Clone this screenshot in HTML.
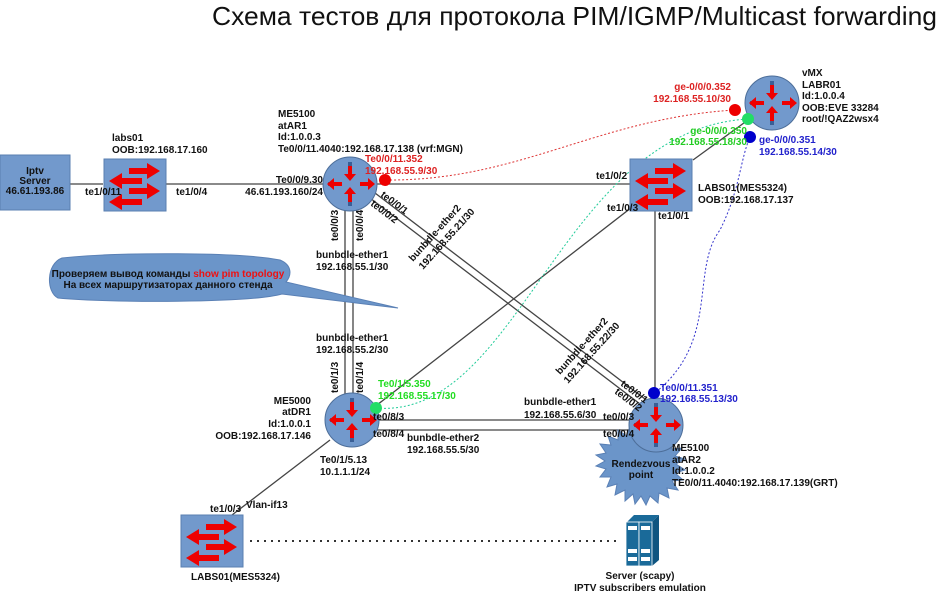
<!DOCTYPE html>
<html><head><meta charset="utf-8"><style>
html,body{margin:0;padding:0;background:#fff;}
svg{display:block;font-family:"Liberation Sans","Noto Sans CJK SC",sans-serif;}
.b{font-weight:bold;font-size:10px;fill:#111;}
</style></head><body>
<svg width="941" height="601" viewBox="0 0 941 601" xmlns="http://www.w3.org/2000/svg">
<defs>
<g id="rt">
 <circle r="27" fill="#7299cc" stroke="#4d6e99" stroke-width="1"/>
 <rect x="-2" y="-22" width="4" height="8" fill="#3a5f96"/>
 <rect x="-2" y="14" width="4" height="8" fill="#3a5f96"/>
 <rect x="-22" y="-2" width="8" height="4" fill="#3a5f96"/>
 <rect x="14" y="-2" width="8" height="4" fill="#3a5f96"/>
 <path d="M-2,-18 h4 v8 h4 l-6,7 l-6,-7 h4z" fill="#e00"/>
 <path d="M-2,18 h4 v-8 h4 l-6,-7 l-6,7 h4z" fill="#e00"/>
 <path d="M-8,-2 v4 h-8 v4 l-7,-6 l7,-6 v4z" fill="#e00"/>
 <path d="M10,-2 v4 h8 v4 l7,-6 l-7,-6 v4z" fill="#e00"/>
</g>
<g id="sw">
 <rect x="0" y="0" width="62" height="52" fill="#7299cc" stroke="#5a7fb0"/>
 <path d="M25,9 h18 v-5 l13,8 l-13,8 v-5 h-18z" fill="#e00"/>
 <path d="M38,19 h-20 v-5 l-13,8 l13,8 v-5 h20z" fill="#e00"/>
 <path d="M25,29 h18 v-5 l13,8 l-13,8 v-5 h-18z" fill="#e00"/>
 <path d="M38,40 h-20 v-5 l-13,8 l13,8 v-5 h20z" fill="#e00"/>
</g>
</defs>
<text x="212" y="25" font-size="26" fill="#111" textLength="725" lengthAdjust="spacingAndGlyphs">Схема тестов для протокола PIM/IGMP/Multicast forwarding</text>

<g stroke="#444" stroke-width="1.3" fill="none">
 <line x1="70" y1="184" x2="103" y2="184"/>
 <line x1="166" y1="184" x2="630" y2="184"/>
 <line x1="693" y1="160" x2="748" y2="120"/>
 <line x1="345" y1="208" x2="345" y2="395"/>
 <line x1="353" y1="208" x2="353" y2="395"/>
 <line x1="370" y1="198" x2="640" y2="404"/>
 <line x1="375" y1="193" x2="645" y2="399"/>
 <line x1="376" y1="420" x2="630" y2="420"/>
 <line x1="376" y1="430" x2="630" y2="430"/>
 <line x1="636" y1="204" x2="368" y2="412"/>
 <line x1="655" y1="210" x2="655" y2="396"/>
 <line x1="330" y1="440" x2="232" y2="515"/>
</g>
<line x1="250" y1="541" x2="618" y2="541" stroke="#333" stroke-width="2" stroke-dasharray="2,5"/>
<path d="M390,180 C520,180 600,118 735,110" stroke="#d33" stroke-width="1" stroke-dasharray="2,2" fill="none"/>
<path d="M376,408 C520,420 560,130 748,119" stroke="#2c9" stroke-width="1" stroke-dasharray="2,2" fill="none"/>
<path d="M656,392 C720,340 690,270 720,230 C740,190 740,160 750,137" stroke="#33c" stroke-width="1" stroke-dasharray="2,2" fill="none"/>

<path d="M62,258 C120,252 240,252 280,260 C292,265 292,275 286,282 L398,308 L282,294 C250,303 110,303 58,298 C46,292 46,264 62,258z" fill="#6b95c9" stroke="#5a80b5"/>
<text x="168" y="277" text-anchor="middle" class="b" font-size="8">Проверяем вывод команды <tspan fill="#e11" font-size="10">show pim topology</tspan></text>
<text x="168" y="288" text-anchor="middle" class="b" font-size="8">На всех маршрутизаторах данного стенда</text>

<polygon fill="#6b95c9" stroke="#5a80b5" points="
643,427 648,437 655,428 657,439 666,432 665,443 676,439 671,449 682,448 675,456 685,459 676,464 685,470 675,473 683,480 672,481 678,490 667,488 669,498 659,493 658,503 650,496 646,505 641,496 635,504 633,494 625,501 625,490 615,495 617,484 607,487 611,477 600,477 606,469 596,466 605,461 596,455 606,453 600,444 611,445 608,436 618,440 618,430 627,436 630,426 636,434"/>
<text x="641" y="467" text-anchor="middle" class="b" font-size="9">Rendezvous</text>
<text x="641" y="478" text-anchor="middle" class="b" font-size="9">point</text>

<rect x="0" y="155" width="70" height="55" fill="#7299cc" stroke="#5a7fb0"/>
<text x="35" y="174" text-anchor="middle" class="b" font-size="9">Iptv</text>
<text x="35" y="184" text-anchor="middle" class="b" font-size="9">Server</text>
<text x="35" y="194" text-anchor="middle" class="b" font-size="9">46.61.193.86</text>
<use href="#sw" x="104" y="159"/>
<use href="#sw" x="630" y="159"/>
<use href="#sw" x="181" y="515"/>
<use href="#rt" x="350" y="184"/>
<use href="#rt" x="772" y="103"/>
<use href="#rt" x="352" y="420"/>
<use href="#rt" x="656" y="425"/>

<g>
 <polygon points="627,522 634,515 659,515 652,522" fill="#1a6a99"/>
 <polygon points="652,522 659,515 659,560 652,566" fill="#0f5580"/>
 <rect x="626" y="522" width="13" height="44" fill="#1a6a99" stroke="#fff" stroke-width="0.8"/>
 <rect x="639" y="522" width="13" height="44" fill="#1a6a99" stroke="#fff" stroke-width="0.8"/>
 <g fill="#fff"><rect x="628" y="526" width="9" height="4"/><rect x="641" y="526" width="9" height="4"/><rect x="628" y="549" width="9" height="4"/><rect x="641" y="549" width="9" height="4"/><rect x="628" y="557" width="9" height="4"/><rect x="641" y="557" width="9" height="4"/></g>
</g>

<circle cx="385" cy="180" r="6" fill="#e00"/>
<circle cx="735" cy="110" r="6" fill="#e00"/>
<circle cx="748" cy="119" r="6" fill="#2d6"/>
<circle cx="376" cy="408" r="6" fill="#2d6"/>
<circle cx="750" cy="137" r="6" fill="#00c"/>
<circle cx="654" cy="393" r="6" fill="#00c"/>

<g class="b">
<text x="112" y="141">labs01</text>
<text x="112" y="153">OOB:192.168.17.160</text>
<text x="85" y="195">te1/0/11</text>
<text x="176" y="195">te1/0/4</text>
<text x="278" y="117">ME5100</text>
<text x="278" y="129">atAR1</text>
<text x="278" y="140">Id:1.0.0.3</text>
<text x="278" y="152">Te0/0/11.4040:192.168.17.138 (vrf:MGN)</text>
<text x="323" y="183" text-anchor="end">Te0/0/9.30</text>
<text x="323" y="195" text-anchor="end">46.61.193.160/24</text>
<text x="365" y="162" fill="#d22">Te0/0/11.352</text>
<text x="365" y="174" fill="#d22">192.168.55.9/30</text>
<text transform="translate(338,241) rotate(-90)">te0/0/3</text>
<text transform="translate(363,241) rotate(-90)">te0/0/4</text>
<text x="316" y="258">bunbdle-ether1</text>
<text x="316" y="270">192.168.55.1/30</text>
<text x="316" y="341">bunbdle-ether1</text>
<text x="316" y="353">192.168.55.2/30</text>
<text transform="translate(338,393) rotate(-90)">te0/1/3</text>
<text transform="translate(363,393) rotate(-90)">te0/1/4</text>
<text transform="translate(380,196) rotate(37)">te0/0/1</text>
<text transform="translate(370,205) rotate(37)">te0/0/2</text>
<text transform="translate(413,262) rotate(-48)">bunbdle-ether2</text>
<text transform="translate(423,270) rotate(-48)">192.168.55.21/30</text>
<text transform="translate(560,375) rotate(-48)">bunbdle-ether2</text>
<text transform="translate(568,384) rotate(-48)">192.168.55.22/30</text>
<text transform="translate(620,385) rotate(37)">te0/0/1</text>
<text transform="translate(614,393) rotate(37)">te0/0/2</text>
<text x="802" y="76">vMX</text>
<text x="802" y="88">LABR01</text>
<text x="802" y="99">Id:1.0.0.4</text>
<text x="802" y="111">OOB:EVE 33284</text>
<text x="802" y="122">root/!QAZ2wsx4</text>
<text x="731" y="90" text-anchor="end" fill="#d22">ge-0/0/0.352</text>
<text x="731" y="102" text-anchor="end" fill="#d22">192.168.55.10/30</text>
<text x="747" y="134" text-anchor="end" fill="#2c2">ge-0/0/0.350</text>
<text x="747" y="145" text-anchor="end" fill="#2c2">192.168.55.18/30</text>
<text x="759" y="143" fill="#22c">ge-0/0/0.351</text>
<text x="759" y="155" fill="#22c">192.168.55.14/30</text>
<text x="596" y="179">te1/0/2</text>
<text x="607" y="211">te1/0/3</text>
<text x="658" y="219">te1/0/1</text>
<text x="698" y="191">LABS01(MES5324)</text>
<text x="698" y="203">OOB:192.168.17.137</text>
<text x="311" y="404" text-anchor="end">ME5000</text>
<text x="311" y="415" text-anchor="end">atDR1</text>
<text x="311" y="427" text-anchor="end">Id:1.0.0.1</text>
<text x="311" y="439" text-anchor="end">OOB:192.168.17.146</text>
<text x="378" y="387" fill="#2d2">Te0/1/5.350</text>
<text x="378" y="399" fill="#2d2">192.168.55.17/30</text>
<text x="373" y="420">te0/8/3</text>
<text x="373" y="437">te0/8/4</text>
<text x="524" y="405">bunbdle-ether1</text>
<text x="524" y="418">192.168.55.6/30</text>
<text x="407" y="441">bunbdle-ether2</text>
<text x="407" y="453">192.168.55.5/30</text>
<text x="603" y="420">te0/0/3</text>
<text x="603" y="437">te0/0/4</text>
<text x="660" y="391" fill="#22c">Te0/0/11.351</text>
<text x="660" y="402" fill="#22c">192.168.55.13/30</text>
<text x="672" y="451">ME5100</text>
<text x="672" y="463">atAR2</text>
<text x="672" y="474">Id:1.0.0.2</text>
<text x="672" y="486">TE0/0/11.4040:192.168.17.139(GRT)</text>
<text x="320" y="463">Te0/1/5.13</text>
<text x="320" y="475">10.1.1.1/24</text>
<text x="210" y="512">te1/0/3</text>
<text x="246" y="508">Vlan-if13</text>
<text x="191" y="580">LABS01(MES5324)</text>
<text x="640" y="579" text-anchor="middle">Server (scapy)</text>
<text x="640" y="591" text-anchor="middle">IPTV subscribers emulation</text>
</g>
</svg>
</body></html>
